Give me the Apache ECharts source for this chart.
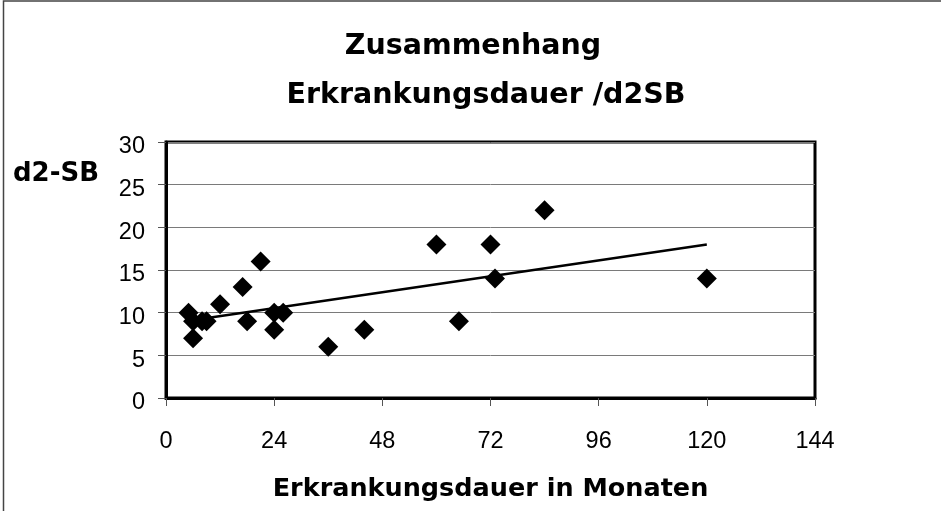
<!DOCTYPE html>
<html>
<head>
<meta charset="utf-8">
<script src="https://cdn.jsdelivr.net/npm/echarts@6/dist/echarts.min.js"></script>
<style>
html,body{margin:0;padding:0;background:#fff;}
#chart{width:941px;height:511px;}
</style>
</head>
<body>
<div id="chart"></div>
<script>
// Data
const months = [5, 6, 6, 8, 9, 12, 17, 18, 21, 24, 24, 26, 36, 44, 60, 65, 72, 73, 84, 120];
const d2sb   = [10, 9, 7, 9, 9, 11, 13, 9, 16, 10, 8, 10, 6, 8, 18, 9, 18, 14, 22, 14];
const xTicks = [0, 24, 48, 72, 96, 120, 144];
const yTicks = [0, 5, 10, 15, 20, 25, 30];
const titleLines = ['Zusammenhang', 'Erkrankungsdauer /d2SB'];
const xName = 'Erkrankungsdauer in Monaten';
const yName = 'd2-SB';

// Linear trend line (least squares) from the data
const n = months.length;
const mx = months.reduce((a, b) => a + b, 0) / n;
const my = d2sb.reduce((a, b) => a + b, 0) / n;
let sxy = 0, sxx = 0;
for (let i = 0; i < n; i++) {
  sxy += (months[i] - mx) * (d2sb[i] - my);
  sxx += (months[i] - mx) * (months[i] - mx);
}
const slope = sxy / sxx;
const intercept = my - slope * mx;
const xMin = Math.min(...months), xMax = Math.max(...months);
const trend = [[xMin, intercept + slope * xMin], [xMax, intercept + slope * xMax]];

const points = months.map((m, i) => [m, d2sb[i]]);

const chart = echarts.init(document.getElementById('chart'));
const boldFont = 'DejaVu Sans';
const tickFont = 'Liberation Sans';
chart.setOption({
  animation: false,
  backgroundColor: '#ffffff',
  grid: {
    left: 166, top: 142, width: 649, height: 256,
    show: true, borderColor: '#000', borderWidth: 3, backgroundColor: 'transparent'
  },
  xAxis: {
    type: 'value',
    min: xTicks[0], max: xTicks[xTicks.length - 1], interval: 24,
    name: xName,
    nameLocation: 'middle',
    nameGap: 78,
    nameTextStyle: { fontFamily: boldFont, fontWeight: 'bold', fontSize: 25.5, color: '#000' },
    axisLine: { show: true, lineStyle: { color: '#000', width: 3 } },
    axisTick: { show: true, inside: false, length: 8, lineStyle: { color: '#555', width: 1 } },
    axisLabel: { margin: 32, fontFamily: tickFont, fontSize: 23.5, color: '#000' },
    splitLine: { show: false }
  },
  yAxis: {
    type: 'value',
    min: yTicks[0], max: yTicks[yTicks.length - 1], interval: 5,
    axisLine: { show: true, lineStyle: { color: '#000', width: 3 } },
    axisTick: { show: true, inside: false, length: 8, lineStyle: { color: '#555', width: 1 } },
    axisLabel: {
      margin: 21,
      formatter: '{v|{value}}',
      rich: { v: { fontFamily: tickFont, fontSize: 23.5, color: '#000', padding: [10, 0, 0, 0] } }
    },
    splitLine: { show: true, lineStyle: { color: '#7a7a7a', width: 1 } }
  },
  graphic: [
    { type: 'rect', shape: { x: 3.5, y: 1, width: 960, height: 540 }, style: { fill: 'none', stroke: '#444', lineWidth: 1.5 }, silent: true },
    { type: 'text', x: 473, y: 47, style: { text: titleLines[0], fontFamily: boldFont, fontWeight: 'bold', fontSize: 28.5, fill: '#000', textAlign: 'center', textVerticalAlign: 'middle' } },
    { type: 'text', x: 486, y: 96, style: { text: titleLines[1], fontFamily: boldFont, fontWeight: 'bold', fontSize: 28.5, fill: '#000', textAlign: 'center', textVerticalAlign: 'middle' } },
    { type: 'text', x: 13, y: 174, style: { text: yName, fontFamily: boldFont, fontWeight: 'bold', fontSize: 26, fill: '#000', textAlign: 'left', textVerticalAlign: 'middle' } }
  ],
  series: [
    {
      type: 'line',
      data: trend,
      showSymbol: false,
      symbol: 'none',
      lineStyle: { color: '#000', width: 2.5 },
      z: 3
    },
    {
      type: 'scatter',
      data: points,
      symbol: 'diamond',
      symbolSize: 20,
      itemStyle: { color: '#000', opacity: 1 },
      z: 4
    }
  ]
});
</script>
</body>
</html>
